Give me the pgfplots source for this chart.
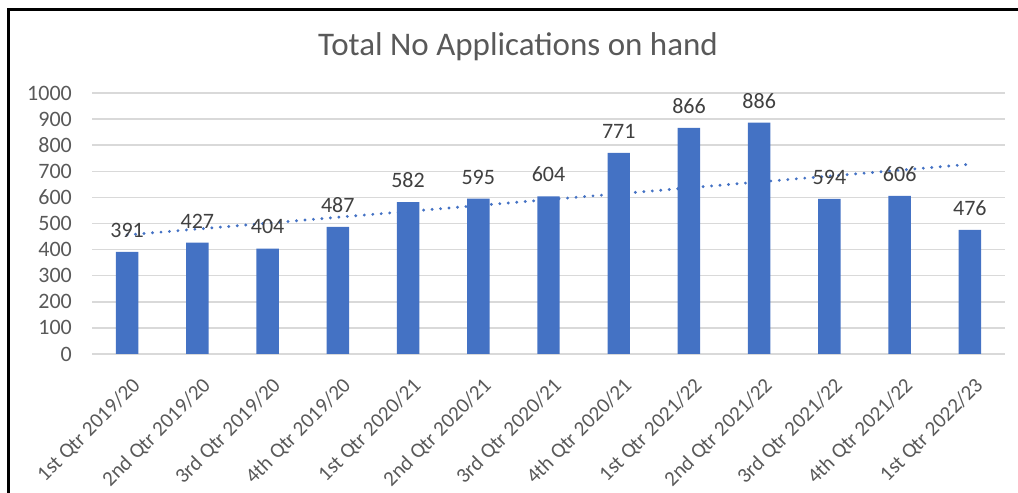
\documentclass[border=0pt]{standalone}
\usepackage{pgfplots}
\pgfplotsset{compat=1.18}
\usepackage{fontspec}
\setmainfont{Carlito}
\definecolor{barblue}{HTML}{4472C4}
\definecolor{gridgray}{HTML}{D9D9D9}
\definecolor{ticktext}{HTML}{595959}
\definecolor{labeltext}{HTML}{404040}
\begin{document}
\begin{tikzpicture}[x=1bp,y=1bp]
\path[use as bounding box] (0,0) rectangle (1018,493);
\draw[black, line width=3bp] (8,0) -- (8,483) -- (1018,483);
\node[text=ticktext, font=\fontsize{33bp}{38bp}\selectfont] at (518,446) {Total No Applications on hand};
\begin{axis}[
    at={(92bp,139bp)}, anchor=south west,
    scale only axis, width=913bp, height=261bp,
    xmin=-0.5, xmax=12.5, ymin=0, ymax=1000,
    ytick={0,100,...,1000},
    xtick={0,...,12},
    xticklabels={1st Qtr 2019/20, 2nd Qtr 2019/20, 3rd Qtr 2019/20, 4th Qtr 2019/20,
                 1st Qtr 2020/21, 2nd Qtr 2020/21, 3rd Qtr 2020/21, 4th Qtr 2020/21,
                 1st Qtr 2021/22, 2nd Qtr 2021/22, 3rd Qtr 2021/22, 4th Qtr 2021/22,
                 1st Qtr 2022/23},
    axis line style={draw=none},
    major tick length=0pt,
    ymajorgrids, grid style={gridgray, line width=1.5bp},
    /pgf/number format/assume math mode=true,
    /pgf/number format/1000 sep={},
    ticklabel style={text=ticktext, font=\fontsize{22bp}{26bp}\selectfont},
    yticklabel style={inner sep=0pt, xshift=-20bp},
    xticklabel style={rotate=45, anchor=east, inner sep=0pt, xshift=-13bp, yshift=-27bp,
                      font=\fontsize{21bp}{25bp}\selectfont},
    nodes near coords,
    every node near coord/.append style={text=labeltext, font=\fontsize{22bp}{26bp}\selectfont, yshift=11bp},
    clip=false,
]
\addplot[ybar, bar width=0.32, fill=barblue, draw=none] coordinates {
    (0,391) (1,427) (2,404) (3,487) (4,582) (5,595) (6,604)
    (7,771) (8,866) (9,886) (10,594) (11,606) (12,476)
};
% linear trend of the 13 values
\addplot[barblue, line width=3.2bp, line cap=round, dash pattern=on 0bp off 8.5bp,
         nodes near coords={}] coordinates {(0,456.1) (12,726.8)};
\end{axis}
\end{tikzpicture}
\end{document}
